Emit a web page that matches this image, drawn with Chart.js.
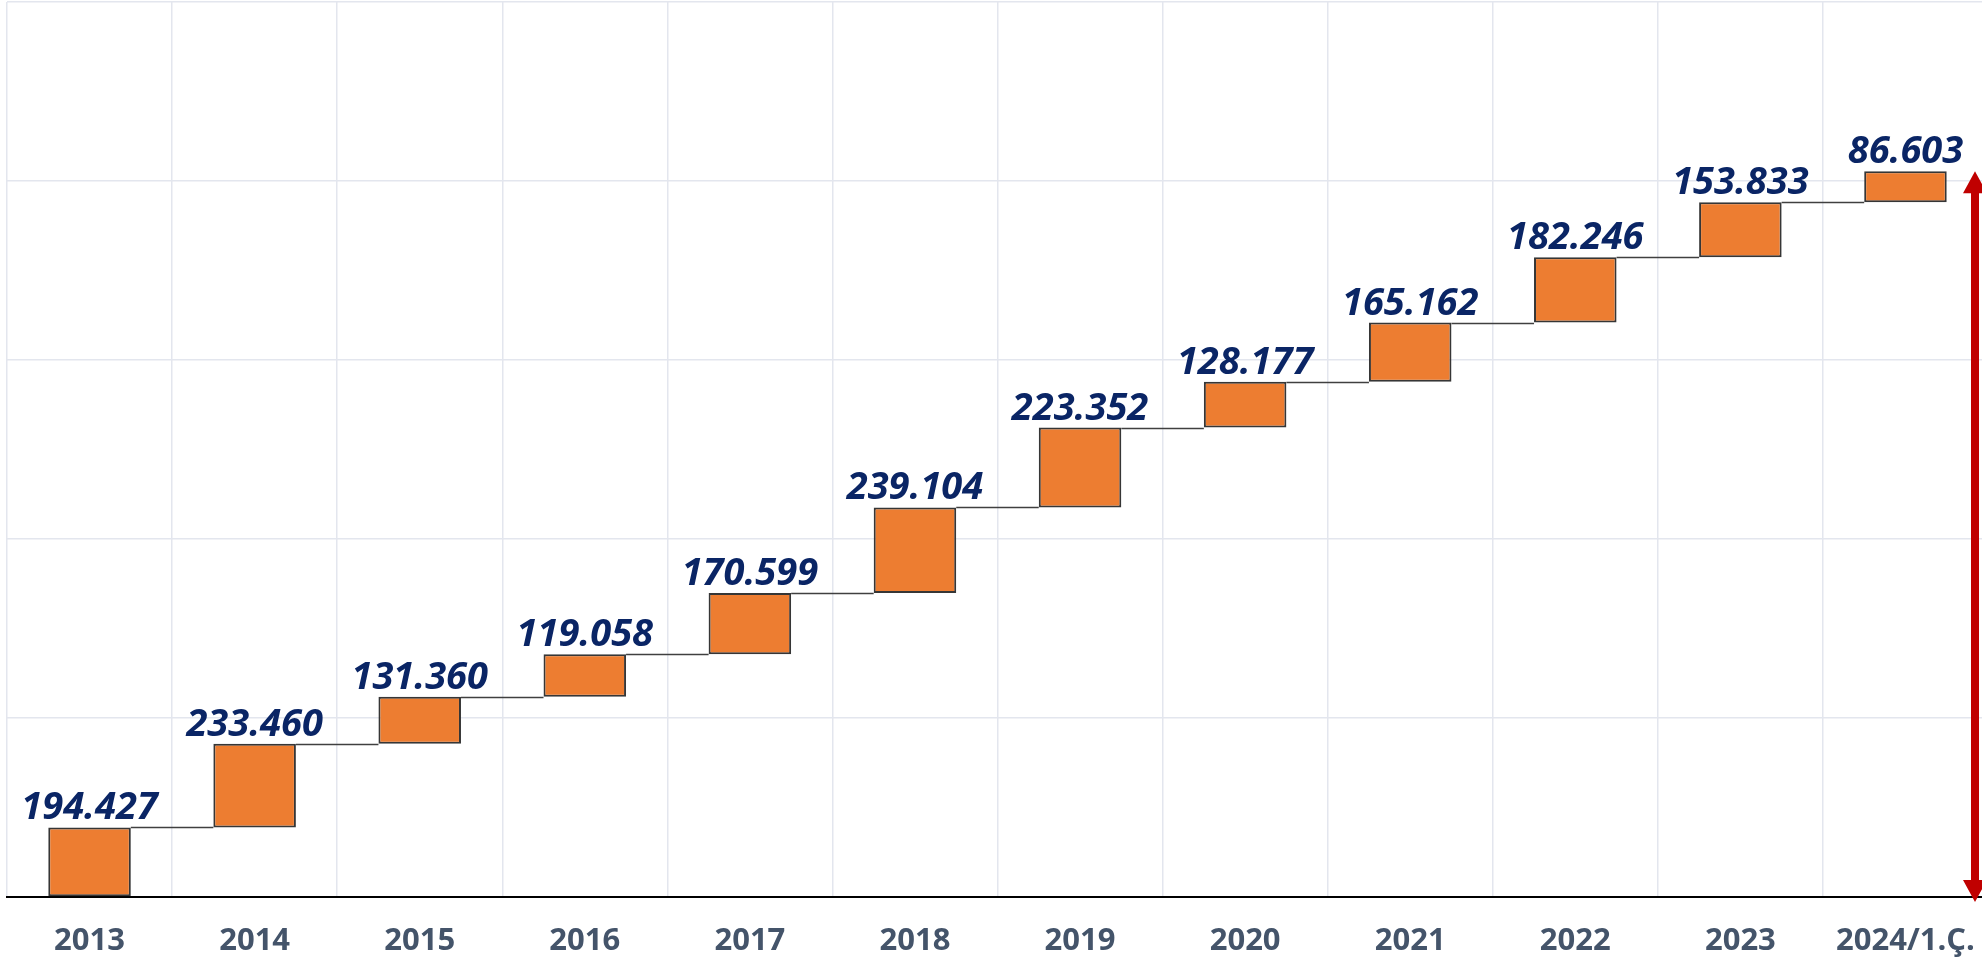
<!DOCTYPE html>
<html>
<head>
<meta charset="utf-8">
<script src="https://cdn.jsdelivr.net/npm/chart.js@4"></script>
<style>
  html, body { margin: 0; padding: 0; background: #fff; overflow: hidden; }
  #wrap { width: 1988px; height: 958px; }
</style>
</head>
<body>
<div id="wrap"><canvas id="chart"></canvas></div>
<script>
const years = ['2013', '2014', '2015', '2016', '2017', '2018', '2019', '2020', '2021', '2022', '2023', '2024/1.Ç.'];
const values = [194427, 233460, 131360, 119058, 170599, 239104, 223352, 128177, 165162, 182246, 153833, 86603];
const valueLabels = ['194.427', '233.460', '131.360', '119.058', '170.599', '239.104', '223.352', '128.177', '165.162', '182.246', '153.833', '86.603'];

// floating bars: [start, end]
let running = 0;
const ranges = values.map(v => {
    const r = [running, running + v];
    running += v;
    return r;
});

// connectors + value labels + red arrow
const waterfallExtras = {
    id: 'waterfallExtras',
    afterDatasetsDraw(chart) {
        const ctx = chart.ctx;
        const bars = chart.getDatasetMeta(0).data;
        const yScale = chart.scales.y;

        ctx.save();
        ctx.strokeStyle = '#404040';
        ctx.lineWidth = 1.5;
        for (let i = 0; i < bars.length - 1; i++) {
            const a = bars[i], b = bars[i + 1];
            const y = Math.round(a.y) + 0.5;
            ctx.beginPath();
            ctx.moveTo(a.x + a.width / 2, y);
            ctx.lineTo(b.x - b.width / 2, y);
            ctx.stroke();
        }

        ctx.fillStyle = '#0a2565';
        ctx.font = 'italic bold 38px "Open Sans", sans-serif';
        ctx.textAlign = 'center';
        ctx.textBaseline = 'alphabetic';
        bars.forEach((bar, i) => {
            ctx.fillText(valueLabels[i], bar.x, bar.y - 8);
        });

        // double arrow for the total
        const x = 1975;
        const yTop = yScale.getPixelForValue(running);
        const yBot = yScale.getPixelForValue(0) + 5;
        const head = 22, half = 12, shaft = 4;
        ctx.fillStyle = '#c00000';
        ctx.beginPath();
        ctx.moveTo(x, yTop);
        ctx.lineTo(x + half, yTop + head);
        ctx.lineTo(x + shaft, yTop + head);
        ctx.lineTo(x + shaft, yBot - head);
        ctx.lineTo(x + half, yBot - head);
        ctx.lineTo(x, yBot);
        ctx.lineTo(x - half, yBot - head);
        ctx.lineTo(x - shaft, yBot - head);
        ctx.lineTo(x - shaft, yTop + head);
        ctx.lineTo(x - half, yTop + head);
        ctx.closePath();
        ctx.fill();
        ctx.restore();
    }
};

new Chart(document.getElementById('chart'), {
    type: 'bar',
    data: {
        labels: years,
        datasets: [{
            data: ranges,
            backgroundColor: '#ed7d31',
            borderColor: '#363636',
            borderWidth: 2,
            borderSkipped: false,
            barPercentage: 0.5,
            categoryPercentage: 1
        }]
    },
    options: {
        responsive: true,
        maintainAspectRatio: false,
        animation: false,
        layout: { padding: { left: 7, top: 2, right: 0, bottom: 0 } },
        plugins: { legend: { display: false }, tooltip: { enabled: false } },
        scales: {
            x: {
                offset: true,
                grid: { offset: true, color: '#e3e6ee', lineWidth: 1.5, drawTicks: false },
                border: { display: true, color: '#000000', width: 2 },
                ticks: {
                    color: '#44546a',
                    font: { family: '"Open Sans", sans-serif', size: 31, weight: 'bold' },
                    padding: 26,
                    maxRotation: 0,
                    autoSkip: false
                },
                afterFit(scale) {
                    scale.height = 61;
                    scale.paddingLeft = 0;
                    scale.paddingRight = 0;
                }
            },
            y: {
                min: 0,
                max: 2500000,
                ticks: { display: false, stepSize: 500000 },
                grid: { color: '#e3e6ee', lineWidth: 1.5, drawTicks: false },
                border: { display: false },
                afterFit(scale) { scale.width = 0; }
            }
        }
    },
    plugins: [waterfallExtras]
});
</script>
</body>
</html>
